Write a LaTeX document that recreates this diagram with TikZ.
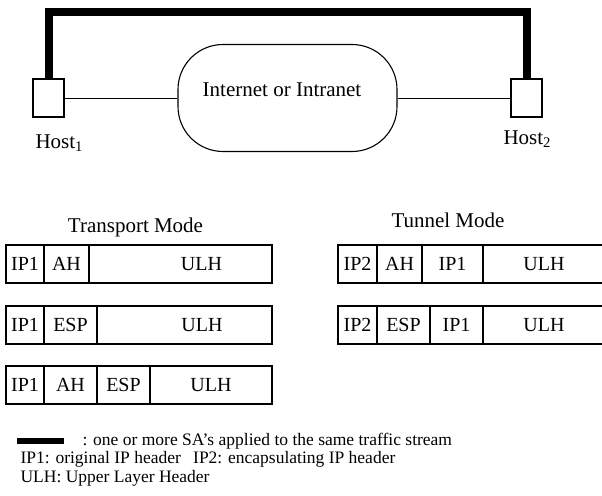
\documentclass[tikz,border=0pt]{standalone}
\usepackage{fontspec}
\setmainfont{Liberation Serif}
\usetikzlibrary{positioning}

\begin{document}
\begin{tikzpicture}[x=1pt,y=-1pt,line width=1.1pt,
  host/.style={draw,minimum width=31pt,minimum height=38pt,inner sep=0pt},
  netbox/.style={draw,rounded corners=45pt,minimum width=219pt,minimum height=107pt,inner sep=0pt},
  salink/.style={line width=8pt},
  field/.style={draw,minimum height=38pt,inner sep=0pt,outer sep=0pt,font=\fontsize{20}{24}\selectfont},
  padleft/.style={execute at begin node={\hspace*{#1}}},
  big/.style={font=\fontsize{21}{25}\selectfont,inner sep=0pt},
  legend/.style={font=\fontsize{17.5}{20}\selectfont,inner sep=0pt,anchor=base west}]

  \useasboundingbox (0,0) rectangle (602,495);
  \clip (0,0) rectangle (602,495);

  % hosts and network
  \node[host] (h1) at (48.5,98) {};
  \node[host] (h2) at (526.5,98) {};
  \node[netbox] (net) at (287.5,98) {};
  \node[big,anchor=base] (nettext) at (282,96) {Internet or Intranet};
  \node[big,anchor=base west] (h1lab) at (35,148) {Host\textsubscript{1}};
  \node[big,anchor=base west] (h2lab) at (503,144) {Host\textsubscript{2}};

  \draw[line width=0.9pt] (h1.east) -- (net.west);
  \draw[line width=0.9pt] (net.east) -- (h2.west);
  \coordinate (top) at (287.5,12);
  \draw[salink] (h1.north) |- (top) -| (h2.north);

  % transport mode
  \node[big,anchor=base] (tmode) at (135.5,232) {Transport Mode};

  \node[field,minimum width=38pt,anchor=west] (t1a) at (6,264) {IP1};
  \node[field,minimum width=45pt,right=0pt of t1a] (t1b) {AH};
  \node[field,minimum width=183pt,padleft=42pt,right=0pt of t1b] (t1c) {ULH};

  \node[field,minimum width=38pt,anchor=west] (t2a) at (6,325) {IP1};
  \node[field,minimum width=53pt,right=0pt of t2a] (t2b) {ESP};
  \node[field,minimum width=175pt,padleft=35pt,right=0pt of t2b] (t2c) {ULH};

  \node[field,minimum width=38pt,anchor=west] (t3a) at (6,385) {IP1};
  \node[field,minimum width=53pt,right=0pt of t3a] (t3b) {AH};
  \node[field,minimum width=53pt,right=0pt of t3b] (t3c) {ESP};
  \node[field,minimum width=122pt,right=0pt of t3c] (t3d) {ULH};

  % tunnel mode
  \node[big,anchor=base] (umode) at (448,227) {Tunnel Mode};

  \node[field,minimum width=39pt,anchor=west] (u1a) at (338,264) {IP2};
  \node[field,minimum width=45pt,right=0pt of u1a] (u1b) {AH};
  \node[field,minimum width=61pt,right=0pt of u1b] (u1c) {IP1};
  \node[field,minimum width=122pt,right=0pt of u1c] (u1d) {ULH};

  \node[field,minimum width=39pt,anchor=west] (u2a) at (338,325) {IP2};
  \node[field,minimum width=53pt,right=0pt of u2a] (u2b) {ESP};
  \node[field,minimum width=53pt,right=0pt of u2b] (u2c) {IP1};
  \node[field,minimum width=122pt,right=0pt of u2c] (u2d) {ULH};

  % legend
  \fill (17,438) rectangle (64,444);
  \node[legend] (leg1) at (82,445) {: one or more SA’s applied to the same traffic stream};
  \node[legend] (leg2) at (20,463) {IP1: original IP header\hspace{0.7em}IP2: encapsulating IP header};
  \node[legend] (leg3) at (20,482) {ULH: Upper Layer Header};
\end{tikzpicture}
\end{document}
